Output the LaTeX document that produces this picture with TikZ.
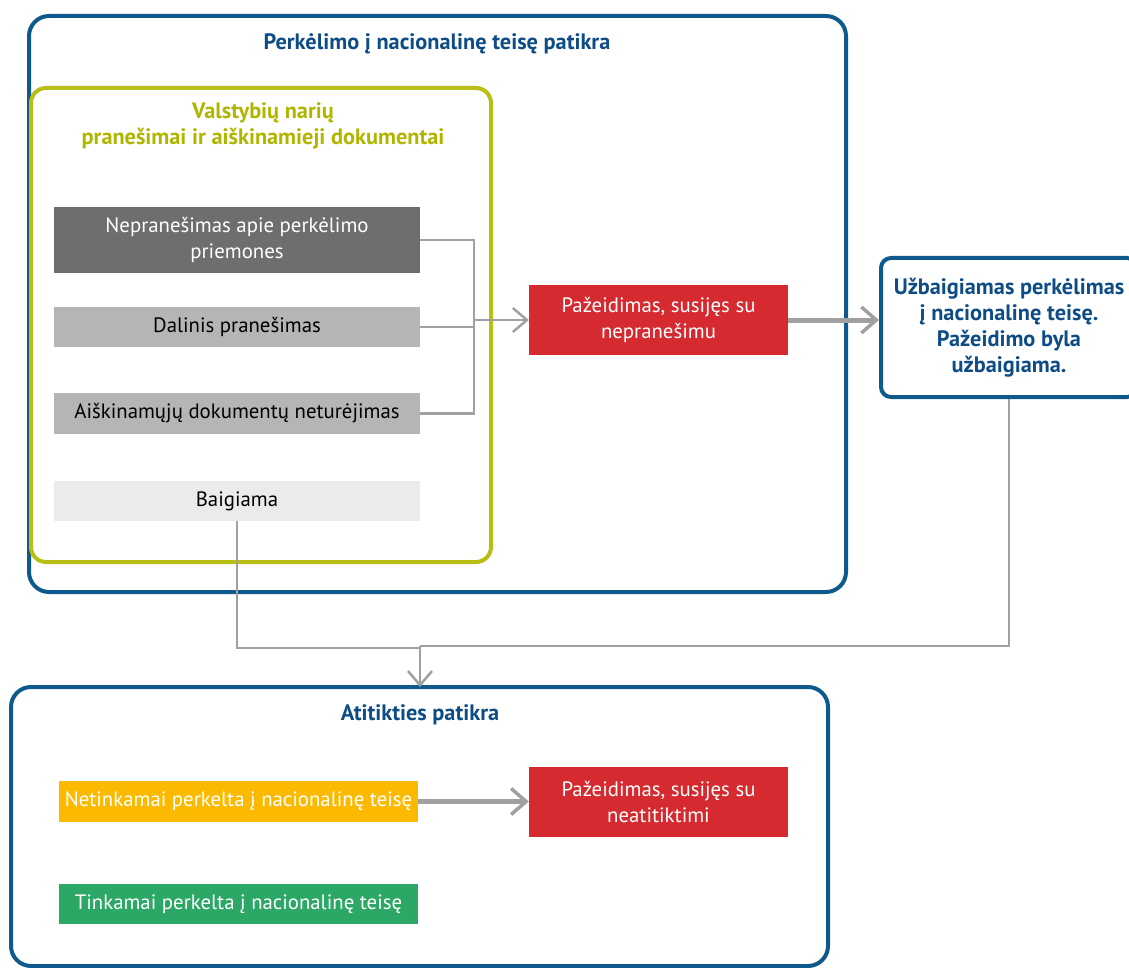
\documentclass[tikz,border=0pt]{standalone}
\usepackage{fontspec}
\setmainfont{PT Sans}
\usetikzlibrary{arrows.meta,calc}
\definecolor{frameblue}{HTML}{0F5A8C}
\definecolor{textblue}{HTML}{0D4C85}
\definecolor{lime}{HTML}{B8BE14}
\definecolor{limetext}{HTML}{B0B500}
\definecolor{dgray}{HTML}{6E6E6E}
\definecolor{lgray}{HTML}{B5B5B5}
\definecolor{vlgray}{HTML}{EBEBEB}
\definecolor{redbox}{HTML}{D42A30}
\definecolor{yellowbox}{HTML}{FBBA00}
\definecolor{greenbox}{HTML}{2BA866}
\definecolor{conn}{HTML}{A0A0A0}
\tikzset{
  txt/.style={font=\fontsize{20.8}{26}\selectfont, align=center},
  ttl/.style={font=\bfseries\fontsize{22.3}{26}\selectfont, align=center},
  fillbox/.style={txt, inner sep=0pt, draw=none},
  frame/.style={draw=frameblue, line width=4pt, rounded corners=20pt},
  limeframe/.style={draw=lime, line width=4pt, rounded corners=15pt},
  thin/.style={draw=conn, line width=2.5pt},
  thinarrow/.style={draw=conn, line width=2.5pt, -{Straight Barb[length=14pt,width=24pt,line width=2.5pt]}},
  thickarrow/.style={draw=conn, line width=5pt, -{Straight Barb[length=15pt,width=26pt,line width=3.5pt]}},
}
\begin{document}
\begin{tikzpicture}[x=1pt,y=-1pt]
\useasboundingbox (0,0) rectangle (1129,968);
% frames
\draw[frame] (29,16) rectangle (846,592);
\node[ttl, text=textblue] (t1) at (437,44) {Perkėlimo į nacionalinę teisę patikra};
\draw[limeframe] (31,88) rectangle (491,562);
\node[ttl, text=limetext] (t2) at (263,126) {Valstybių narių\\pranešimai ir aiškinamieji dokumentai};
% boxes
\node[fillbox, fill=dgray, text=white, minimum width=366pt, minimum height=66pt] (b1) at (237,240) {Nepranešimas apie perkėlimo\\priemones};
\node[fillbox, fill=lgray, text=black, minimum width=366pt, minimum height=40pt] (b2) at (237,327) {Dalinis pranešimas};
\node[fillbox, fill=lgray, text=black, minimum width=366pt, minimum height=41pt] (b3) at (237,413.5) {Aiškinamųjų dokumentų neturėjimas};
\node[fillbox, fill=vlgray, text=black, minimum width=366pt, minimum height=40pt] (b4) at (237,501) {Baigiama};
\node[fillbox, fill=redbox, text=white, minimum width=259pt, minimum height=70pt] (r1) at (658.5,320) {Pažeidimas, susijęs su\\nepranešimu};
\node[ttl, text=textblue, draw=frameblue, line width=4pt, rounded corners=10pt, minimum width=256pt, minimum height=139pt, inner sep=0pt] (rb) at (1009,327.5) {Užbaigiamas perkėlimas\\į nacionalinę teisę.\\Pažeidimo byla\\užbaigiama.};
% bottom frame
\draw[frame] (11,687) rectangle (828,966);
\coordinate (bt) at (420,687);
\node[ttl, text=textblue] (t3) at (420,715) {Atitikties patikra};
\node[fillbox, fill=yellowbox, text=white, minimum width=359pt, minimum height=41pt] (y1) at (238.5,801.5) {Netinkamai perkelta į nacionalinę teisę};
\node[fillbox, fill=redbox, text=white, minimum width=259pt, minimum height=70pt] (r2) at (658.5,802) {Pažeidimas, susijęs su\\neatitiktimi};
\node[fillbox, fill=greenbox, text=white, minimum width=359pt, minimum height=40pt] (g1) at (238.5,904) {Tinkamai perkelta į nacionalinę teisę};
% connectors
\coordinate (bus) at (474,320);
\draw[thin] (b1.east) -| (b3.east -| bus) -- (b3.east);
\draw[thin] (b2.east) -- (b2.east -| bus);
\draw[thinarrow] (bus) -- (r1.west);
\draw[thickarrow] (r1.east) -- (r1.east -| rb.west);
\coordinate (j) at (420,646);
\draw[thin] (b4.south) |- (420,648);
\draw[thin] (rb.south) |- (j);
\draw[thinarrow, line width=2pt] (j) -- (bt);
\draw[thickarrow] (y1.east) -- (r2.west |- y1.east);
\end{tikzpicture}
\end{document}
